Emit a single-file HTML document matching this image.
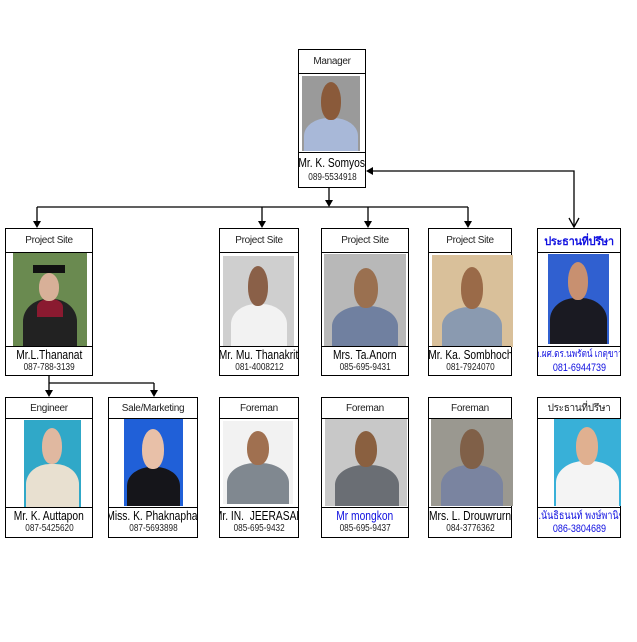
<!DOCTYPE html>
<html><head><meta charset="utf-8"><style>
body{margin:0;width:637px;height:642px;background:#fff;position:relative;overflow:hidden;font-family:"Liberation Sans","Noto Sans CJK SC",sans-serif}
.b{position:absolute;border:1.5px solid #000;box-sizing:border-box;background:#fff}
.t{position:absolute;left:0;right:0;top:0;border-bottom:1.5px solid #000;font-size:10px;text-align:center;color:#222;display:flex;align-items:center;justify-content:center;letter-spacing:-0.3px}
.n{position:absolute;left:0;right:0;bottom:0;border-top:1.5px solid #000;text-align:center;white-space:nowrap;overflow:hidden}
.n div{display:block}
.n div span{display:inline-block;transform:scaleX(0.82);transform-origin:center}
.n div:first-child{font-size:12.5px;line-height:14px;margin-top:1px;margin-left:-20px;margin-right:-20px}
.n div:last-child{font-size:10px;line-height:12px;color:#222}
.p{position:absolute;overflow:hidden}
.h{position:absolute;border-radius:50% 50% 45% 45%;background:#c79a78}
.s{position:absolute;border-radius:45% 45% 0 0}
.blue{color:#1010e0!important}
</style></head><body>
<svg width="637" height="642" style="position:absolute;left:0;top:0">
<g stroke="#000" stroke-width="1.3" fill="none">
<line x1="329" y1="187" x2="329" y2="200"/>
<line x1="37" y1="207" x2="468" y2="207"/>
<line x1="37" y1="207" x2="37" y2="222"/>
<line x1="262" y1="207" x2="262" y2="222"/>
<line x1="368" y1="207" x2="368" y2="222"/>
<line x1="468" y1="207" x2="468" y2="222"/>
<polyline points="372,171 574,171 574,226"/>
<polyline points="569,218 574,227 579,218"/>
<line x1="49" y1="376" x2="49" y2="391"/>
<line x1="49" y1="383" x2="154" y2="383"/>
<line x1="154" y1="383" x2="154" y2="391"/>
</g>
<g fill="#000">
<polygon points="325,200 333,200 329,207"/>
<polygon points="33,221 41,221 37,228"/>
<polygon points="258,221 266,221 262,228"/>
<polygon points="364,221 372,221 368,228"/>
<polygon points="464,221 472,221 468,228"/>
<polygon points="366,171 373,167 373,175"/>
<polygon points="45,390 53,390 49,397"/>
<polygon points="150,390 158,390 154,397"/>
</g>
</svg>

<!-- Manager -->
<div class="b" style="left:298px;top:49px;width:68px;height:139px">
<div class="t" style="height:23px">Manager</div>
<div class="p" style="left:3px;top:26px;width:58px;height:75px;background:#9a9a9a"><div class="s" style="left:2px;top:42px;width:54px;height:40px;background:#a8b8d8"></div><div class="h" style="left:19px;top:6px;width:20px;height:38px;background:#8a5a3a"></div></div>
<div class="n" style="height:34px"><div style="margin-top:3px"><span>Mr. K. Somyos</span></div><div style="margin-top:2px"><span>089-5534918</span></div></div>
</div>

<!-- Row 2 -->
<div class="b" style="left:5px;top:228px;width:88px;height:148px">
<div class="t" style="height:23px">Project Site</div>
<div class="p" style="left:7px;top:24px;width:74px;height:94px;background:#6a8a50"><div class="s" style="left:10px;top:46px;width:54px;height:50px;background:#222"></div><div class="s" style="left:24px;top:46px;width:26px;height:18px;background:#8a1a30"></div><div class="h" style="left:26px;top:20px;width:20px;height:28px;background:#d8b098"></div><div style="position:absolute;left:20px;top:12px;width:32px;height:8px;background:#111"></div></div>
<div class="n" style="height:28px"><div><span>Mr.L.Thananat</span></div><div><span>087-788-3139</span></div></div>
</div>
<div class="b" style="left:219px;top:228px;width:80px;height:148px">
<div class="t" style="height:23px">Project Site</div>
<div class="p" style="left:3px;top:27px;width:71px;height:90px;background:#cfcfcf"><div class="s" style="left:8px;top:48px;width:56px;height:45px;background:#f2f2f2"></div><div class="h" style="left:25px;top:10px;width:20px;height:40px;background:#8a6048"></div></div>
<div class="n" style="height:28px"><div><span>Mr. Mu. Thanakrit</span></div><div><span>081-4008212</span></div></div>
</div>
<div class="b" style="left:321px;top:228px;width:88px;height:148px">
<div class="t" style="height:23px">Project Site</div>
<div class="p" style="left:2px;top:25px;width:82px;height:93px;background:#b8b8b8"><div class="s" style="left:8px;top:52px;width:66px;height:45px;background:#7080a0"></div><div class="h" style="left:30px;top:14px;width:24px;height:40px;background:#9a7050"></div></div>
<div class="n" style="height:28px"><div><span>Mrs. Ta.Anorn</span></div><div><span>085-695-9431</span></div></div>
</div>
<div class="b" style="left:428px;top:228px;width:84px;height:148px">
<div class="t" style="height:23px">Project Site</div>
<div class="p" style="left:3px;top:26px;width:81px;height:92px;background:#d9c09a"><div class="s" style="left:10px;top:52px;width:60px;height:42px;background:#8a9ab0"></div><div class="h" style="left:29px;top:12px;width:22px;height:42px;background:#9a6a48"></div></div>
<div class="n" style="height:28px"><div><span>Mr. Ka. Sombhoch</span></div><div><span>081-7924070</span></div></div>
</div>
<div class="b" style="left:537px;top:228px;width:84px;height:148px">
<div class="t blue" style="height:23px;font-size:11px;font-weight:bold">ประธานที่ปรึษา</div>
<div class="p" style="left:10px;top:25px;width:61px;height:90px;background:#3060d0"><div class="s" style="left:2px;top:44px;width:57px;height:48px;background:#1a1a22"></div><div class="h" style="left:20px;top:8px;width:20px;height:38px;background:#c89070"></div></div>
<div class="n" style="height:28px"><div class="blue" style="font-size:10px"><span>อ.ผศ.ดร.นพรัตน์ เกตุขาว</span></div><div class="blue" style="font-size:11px"><span>081-6944739</span></div></div>
</div>

<!-- Row 3 -->
<div class="b" style="left:5px;top:397px;width:88px;height:141px">
<div class="t" style="height:20px">Engineer</div>
<div class="p" style="left:18px;top:22px;width:57px;height:87px;background:#30a8c8"><div class="s" style="left:2px;top:44px;width:53px;height:45px;background:#e8e0d0"></div><div class="h" style="left:18px;top:8px;width:20px;height:36px;background:#e0b8a0"></div></div>
<div class="n" style="height:29px"><div><span>Mr. K. Auttapon</span></div><div><span>087-5425620</span></div></div>
</div>
<div class="b" style="left:108px;top:397px;width:90px;height:141px">
<div class="t" style="height:20px">Sale/Marketing</div>
<div class="p" style="left:15px;top:21px;width:59px;height:87px;background:#2060d8"><div class="s" style="left:3px;top:48px;width:53px;height:42px;background:#15151a"></div><div class="h" style="left:18px;top:10px;width:22px;height:40px;background:#e8c0a8"></div></div>
<div class="n" style="height:29px"><div><span>Miss. K. Phaknaphat</span></div><div><span>087-5693898</span></div></div>
</div>
<div class="b" style="left:219px;top:397px;width:80px;height:141px">
<div class="t" style="height:20px">Foreman</div>
<div class="p" style="left:3px;top:23px;width:70px;height:83px;background:#f2f2f2"><div class="s" style="left:4px;top:42px;width:62px;height:44px;background:#808890"></div><div class="h" style="left:24px;top:10px;width:22px;height:34px;background:#a07050"></div></div>
<div class="n" style="height:29px"><div><span>Mr. IN.&nbsp; JEERASAK</span></div><div><span>085-695-9432</span></div></div>
</div>
<div class="b" style="left:321px;top:397px;width:88px;height:141px">
<div class="t" style="height:20px">Foreman</div>
<div class="p" style="left:3px;top:21px;width:82px;height:87px;background:#c8c8c8"><div class="s" style="left:10px;top:46px;width:64px;height:44px;background:#6a6e74"></div><div class="h" style="left:30px;top:12px;width:22px;height:36px;background:#8a6040"></div></div>
<div class="n" style="height:29px"><div class="blue"><span>Mr mongkon</span></div><div><span>085-695-9437</span></div></div>
</div>
<div class="b" style="left:428px;top:397px;width:84px;height:141px">
<div class="t" style="height:20px">Foreman</div>
<div class="p" style="left:2px;top:21px;width:82px;height:87px;background:#9a9890"><div class="s" style="left:10px;top:46px;width:62px;height:44px;background:#7a84a0"></div><div class="h" style="left:29px;top:10px;width:24px;height:40px;background:#806048"></div></div>
<div class="n" style="height:29px"><div><span>Mrs. L. Drouwrurn</span></div><div><span>084-3776362</span></div></div>
</div>
<div class="b" style="left:537px;top:397px;width:84px;height:141px">
<div class="t" style="height:20px">ประธานที่ปรึษา</div>
<div class="p" style="left:16px;top:21px;width:67px;height:87px;background:#38b0d8"><div class="s" style="left:2px;top:42px;width:63px;height:48px;background:#f4f4f4"></div><div class="h" style="left:22px;top:8px;width:22px;height:38px;background:#e0b090"></div></div>
<div class="n" style="height:29px"><div class="blue" style="font-size:11px"><span>อ.นันธิธนนท์ พงษ์พานิช</span></div><div class="blue" style="font-size:11px"><span>086-3804689</span></div></div>
</div>
</body></html>
